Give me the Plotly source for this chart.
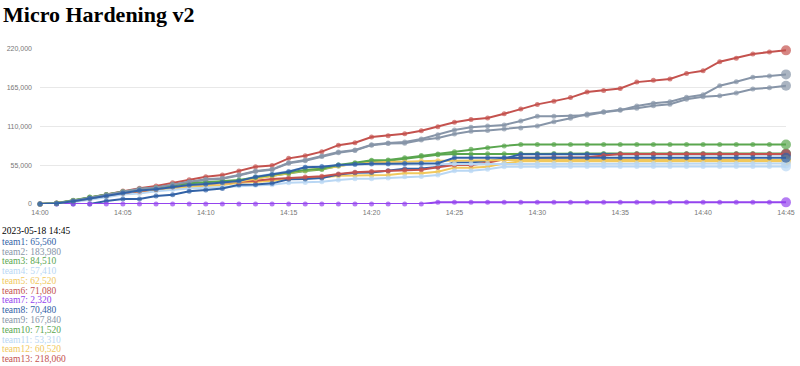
import plotly.graph_objects as go

times = ["2023-05-18 14:%02d" % m for m in range(46)]

team1 = [0, 800, 4000, 8000, 11500, 15500, 19000, 21000, 24500, 27000,
         28500, 30500, 32500, 38500, 42000, 45900, 52000, 53000, 55300, 56500,
         57000, 57000, 57500, 57700, 58000, 65560, 65560, 65560, 65560, 65560,
         65560, 65560, 65560, 65560, 65560, 65560, 65560, 65560, 65560, 65560,
         65560, 65560, 65560, 65560, 65560, 65560]
team2 = [0, 1000, 4500, 8500, 13000, 17500, 21500, 23500, 28000, 31700,
         35000, 36400, 41100, 46800, 49200, 58600, 62400, 68100, 73800, 76600,
         84200, 86600, 88000, 92200, 98400, 105000, 108800, 110700, 112100, 117800,
         124400, 124400, 124600, 125800, 130100, 133000, 139000, 142900, 145200, 151400,
         155100, 167900, 173600, 179800, 181600, 183980]
team3 = [0, 1500, 5500, 10000, 13500, 17500, 21000, 23000, 26500, 29500,
         31000, 32500, 34000, 37800, 41100, 44400, 48200, 50100, 55300, 58700,
         62000, 62500, 65500, 69000, 71000, 74300, 77600, 80000, 82500, 84510,
         84510, 84510, 84510, 84510, 84510, 84510, 84510, 84510, 84510, 84510,
         84510, 84510, 84510, 84510, 84510, 84510]
team4 = [0, 1000, 4500, 8500, 12000, 16000, 19500, 21500, 25000, 27500,
         29000, 31000, 33000, 39000, 43000, 46500, 52000, 53500, 55500, 56000,
         56500, 56500, 56800, 57000, 57000, 57200, 57200, 57410, 57410, 57410,
         57410, 57410, 57410, 57410, 57410, 57410, 57410, 57410, 57410, 57410,
         57410, 57410, 57410, 57410, 57410, 57410]
team5 = [0, 1000, 4500, 8500, 12000, 16000, 19000, 21000, 24500, 27000,
         28500, 30000, 32000, 36000, 40000, 44000, 48000, 50000, 54000, 57000,
         58500, 60000, 60000, 61000, 61500, 61500, 62000, 62000, 62520, 62520,
         62520, 62520, 62520, 62520, 62520, 62520, 62520, 62520, 62520, 62520,
         62520, 62520, 62520, 62520, 62520, 62520]
team6 = [0, 1000, 4500, 8500, 12000, 15500, 18000, 20500, 24000, 27000,
         28500, 30000, 31000, 33000, 35500, 37000, 38500, 39500, 42500, 45000,
         46000, 47000, 48200, 48500, 52000, 55300, 55500, 58600, 63400, 65500,
         65800, 66000, 66200, 66500, 69000, 71080, 71080, 71080, 71080, 71080,
         71080, 71080, 71080, 71080, 71080, 71080]
team7 = [0, 0, 0, 0, 0, 0, 0, 0, 0, 0,
         0, 0, 0, 0, 0, 0, 0, 0, 0, 0,
         0, 0, 0, 0, 2320, 2320, 2320, 2320, 2320, 2320,
         2320, 2320, 2320, 2320, 2320, 2320, 2320, 2320, 2320, 2320,
         2320, 2320, 2320, 2320, 2320, 2320]
team8 = [0, 0, 0, 0, 4300, 7100, 7100, 11300, 13200, 18000,
         20000, 22000, 27200, 27600, 29300, 35000, 35500, 36900, 42000, 44400,
         44600, 47300, 50100, 50300, 52500, 58800, 59100, 60500, 64800, 70480,
         70480, 70480, 70480, 70480, 70480, 70480, 70480, 70480, 70480, 70480,
         70480, 70480, 70480, 70480, 70480, 70480]
team9 = [0, 800, 4000, 7500, 12500, 17000, 21000, 23000, 27500, 31000,
         34500, 36000, 40500, 46000, 48500, 57800, 61500, 67300, 72800, 76000,
         83500, 86000, 86100, 90800, 93700, 99300, 103100, 104500, 106400, 107800,
         110700, 116800, 121600, 127700, 131000, 133800, 136000, 139500, 141500, 148600,
         152300, 153700, 157500, 163200, 165000, 167840]
team10 = [0, 1200, 5000, 9500, 13000, 17000, 20500, 22500, 26000, 28500,
          30000, 31500, 33000, 36500, 40000, 43000, 47000, 49000, 54000, 57500,
          61000, 61500, 64000, 67500, 70000, 70800, 71000, 71200, 71300, 71520,
          71520, 71520, 71520, 71520, 71520, 71520, 71520, 71520, 71520, 71520,
          71520, 71520, 71520, 71520, 71520, 71520]
team11 = [0, 500, 2500, 5500, 9500, 13500, 15000, 18000, 20500, 22000,
          23000, 24000, 26000, 26500, 27500, 30000, 30500, 31500, 34000, 36000,
          36000, 37000, 38800, 39000, 41100, 47300, 47300, 49200, 53000, 53310,
          53310, 53310, 53310, 53310, 53310, 53310, 53310, 53310, 53310, 53310,
          53310, 53310, 53310, 53310, 53310, 53310]
team12 = [0, 800, 3500, 7000, 10500, 14500, 16000, 19500, 22000, 24000,
          25500, 27000, 30000, 31000, 33000, 35500, 36000, 37500, 40000, 40500,
          40500, 41100, 43500, 43500, 45900, 51600, 51600, 53000, 57700, 60520,
          60520, 60520, 60520, 60520, 60520, 60520, 60520, 60520, 60520, 60520,
          60520, 60520, 60520, 60520, 60520, 60520]
team13 = [0, 1500, 4500, 9000, 13500, 18500, 22500, 25500, 30000, 34500,
          38700, 41000, 46800, 53000, 54500, 64800, 68600, 74300, 83500, 87000,
          95000, 97000, 99800, 104000, 109700, 116000, 120000, 122000, 128000, 135000,
          141400, 146000, 151000, 159000, 161000, 164000, 173000, 175500, 177400, 185400,
          189000, 202000, 207000, 213000, 215700, 218060]

team_names = ["team1", "team2", "team3", "team4", "team5", "team6", "team7",
              "team8", "team9", "team10", "team11", "team12", "team13"]
team_values = [team1, team2, team3, team4, team5, team6, team7,
               team8, team9, team10, team11, team12, team13]
palette = ["#3262a6", "#8795a8", "#5aa64f", "#b9d7f4", "#f1c85c", "#c4524e", "#9444ee"]
y_ticks = [0, 55000, 110000, 165000, 220000]
legend_header = "2023-05-18 14:45"
title_text = "Micro Hardening v2"

W, H = 800, 366
L, R, T, B = 40, 14, 49, 162
pw, ph = W - L - R, H - T - B

def px(xp):
    return (xp - L) / pw

def py(yp):
    return (H - B - yp) / ph

fig = go.Figure()
for i in reversed(range(len(team_names))):
    col = palette[i % len(palette)]
    vals = team_values[i]
    sizes = [5] * (len(vals) - 1) + [10]
    fig.add_trace(go.Scatter(
        x=times[:len(vals)], y=vals, mode="lines+markers", name=team_names[i],
        line=dict(color=col, width=2),
        marker=dict(color=col, size=sizes, line=dict(width=0)),
        cliponaxis=False, showlegend=False))

annotations = [dict(text="<b>%s</b>" % title_text, x=px(1), y=py(14), xref="paper", yref="paper",
                    xanchor="left", yanchor="middle", showarrow=False,
                    font=dict(family="Liberation Serif", size=22, color="#000"))]
annotations.append(dict(text=legend_header, x=px(0), y=py(231), xref="paper", yref="paper",
                        xanchor="left", yanchor="middle", showarrow=False,
                        font=dict(family="Liberation Serif", size=9.5, color="#000")))
for i, name in enumerate(team_names):
    col = palette[i % len(palette)]
    annotations.append(dict(text="%s: %s" % (name, format(team_values[i][-1], ",")),
                            x=px(0), y=py(241.8 + i * 9.78), xref="paper", yref="paper",
                            xanchor="left", yanchor="middle", showarrow=False,
                            font=dict(family="Liberation Serif", size=9.5, color=col)))

fig.update_layout(
    width=W, height=H, margin=dict(l=L, r=R, t=T, b=B, autoexpand=False),
    paper_bgcolor="white", plot_bgcolor="white",
    annotations=annotations,
    xaxis=dict(type="date", range=[times[0], times[-1]], dtick=300000, tickformat="%H:%M",
               showgrid=False, zeroline=False, showline=False, ticklabelstandoff=3,
               automargin=False,
               tickfont=dict(family="Liberation Sans", size=7, color="#777")),
    yaxis=dict(range=[0, 220000], tickvals=y_ticks, tickformat=",", showgrid=True,
               gridcolor="#e8e8e8", gridwidth=1, zeroline=False, showline=False,
               ticklabelstandoff=7, automargin=False,
               tickfont=dict(family="Liberation Sans", size=7, color="#777")),
)
fig.write_html("out.html", config={"displayModeBar": False})

with open("out.html", "r", encoding="utf-8") as f:
    html = f.read()
html = html.replace("<head>", "<head><style>html,body{margin:0;padding:0;overflow:hidden;}</style>", 1)
with open("out.html", "w", encoding="utf-8") as f:
    f.write(html)
